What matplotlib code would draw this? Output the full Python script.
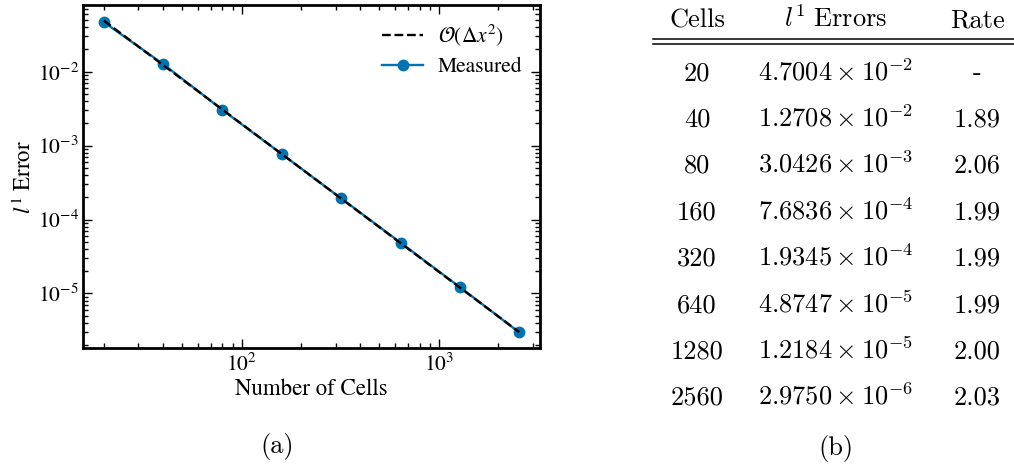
import matplotlib
matplotlib.use("Agg")
import matplotlib.pyplot as plt
import numpy as np

# Grid resolutions and measured l1 errors
cells = [20, 40, 80, 160, 320, 640, 1280, 2560]
l1_errors = [4.7004e-2, 1.2708e-2, 3.0426e-3, 7.6836e-4,
             1.9345e-4, 4.8747e-5, 1.2184e-5, 2.9750e-6]
# Second-order reference line values
ref_second_order = [4.920e-2, 1.230e-2, 3.075e-3, 7.688e-4,
                    1.922e-4, 4.805e-5, 1.201e-5, 3.003e-6]

# Table strings
error_mantissa = ["4.7004", "1.2708", "3.0426", "7.6836",
                  "1.9345", "4.8747", "1.2184", "2.9750"]
error_exponent = [-2, -2, -3, -4, -4, -5, -5, -6]
rates = ["-", "1.89", "2.06", "1.99", "1.99", "1.99", "2.00", "2.03"]
headers = [r"Cells", r"$l^1$ Errors", r"Rate"]

plt.rcParams["font.family"] = ["STIXGeneral", "DejaVu Serif"]
plt.rcParams["mathtext.fontset"] = "stix"

W, H = 1014, 465
fig = plt.figure(figsize=(W / 100, H / 100), dpi=100)

def fx(px):
    return px / W

def fy(py):
    return 1 - py / H

# ---------------- (a) convergence plot ----------------
ax = fig.add_axes([fx(83), fy(348), fx(540) - fx(83), fy(5) - fy(348)])
blue = "#0173b2"
ax.plot(cells, ref_second_order, ls="--", color="black", lw=1.7,
        label=r"$\mathcal{O}(\Delta x^2)$", zorder=3)
ax.plot(cells, l1_errors, "-o", color=blue, lw=1.7, ms=7.5,
        label="Measured", zorder=2)
ax.set_xscale("log")
ax.set_yscale("log")
ax.set_xlabel("Number of Cells", fontsize=16.5, labelpad=2)
ax.set_ylabel(r"$l^1$ Error", fontsize=16.5, labelpad=1)

for s in ax.spines.values():
    s.set_linewidth(2.0)
ax.tick_params(which="both", direction="in", top=True, right=True,
               labelsize=15.5)
ax.tick_params(which="major", length=6.5, width=1.0, pad=4)
ax.tick_params(axis="y", which="major", pad=3)
ax.tick_params(which="minor", length=3.5, width=1.0)

leg = ax.legend(loc="upper right", frameon=False, fontsize=15.5,
                handlelength=1.9, handletextpad=0.7,
                borderaxespad=0.4, labelspacing=0.42)

fig.text(fx(277), fy(453), "(a)", ha="center", va="baseline",
         fontfamily="cmr10", fontsize=19)

# ---------------- (b) convergence table ----------------
col_x = [697, 836, 977]
header_base = 27
row_base0 = 80
row_step = 46.4
tfs = 19

for x, h in zip(col_x, headers):
    if "$" in h:
        fig.text(fx(x), fy(header_base), r"$l^1\ \mathrm{Errors}$",
                 ha="center", va="baseline", fontsize=tfs,
                 math_fontfamily="cm")
    else:
        fig.text(fx(x), fy(header_base), h, ha="center", va="baseline",
                 fontfamily="cmr10", fontsize=tfs)

for y_px in (39, 44):
    fig.add_artist(plt.Line2D([fx(653), fx(1014)], [fy(y_px), fy(y_px)],
                              color="black", lw=1.1))

for i, (n, m, e, r) in enumerate(zip(cells, error_mantissa,
                                     error_exponent, rates)):
    yb = fy(row_base0 + i * row_step)
    fig.text(fx(col_x[0]), yb, str(n), ha="center", va="baseline",
             fontfamily="cmr10", fontsize=tfs)
    fig.text(fx(col_x[1]), yb, r"$%s \times 10^{%d}$" % (m, e),
             ha="center", va="baseline", fontsize=tfs, math_fontfamily="cm")
    fig.text(fx(col_x[2]), yb, r, ha="center", va="baseline",
             fontfamily="cmr10", fontsize=tfs)

fig.text(fx(836), fy(455), "(b)", ha="center", va="baseline",
         fontfamily="cmr10", fontsize=tfs)

fig.savefig("out.png", dpi=100)
